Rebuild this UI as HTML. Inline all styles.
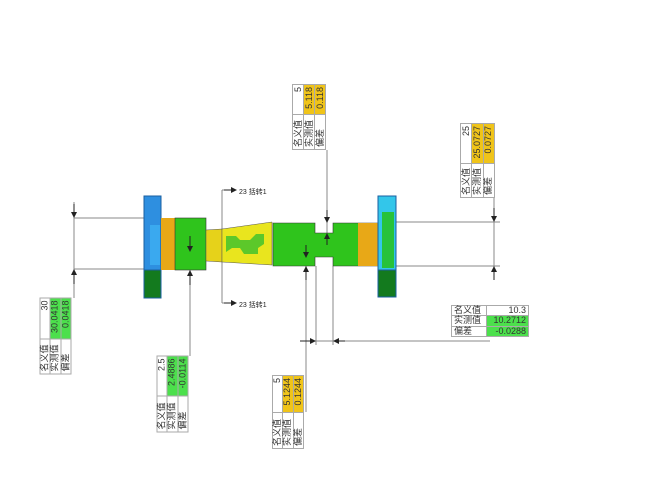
<!DOCTYPE html>
<html><head><meta charset="utf-8"><style>
body{margin:0;width:664px;height:482px;background:#fff;position:relative;overflow:hidden;font-family:"Liberation Sans","Noto Sans CJK SC",sans-serif}
.t{position:absolute;border-collapse:collapse;font-size:9px;color:#333;background:#fff}
.t td{border:1px solid #aaa;padding:0 2px;height:9px;line-height:9px;white-space:nowrap}
.t td.v{text-align:right}
.g{background:#4ce04c}.y{background:#f0c419}
.r{transform:rotate(-90deg);transform-origin:center center}
</style></head><body>
<svg width="664" height="482" style="position:absolute;left:0;top:0" xmlns="http://www.w3.org/2000/svg">
<defs><marker id="a" markerWidth="6" markerHeight="6" refX="5" refY="3" orient="auto"><path d="M0,0L6,3L0,6z" fill="#222"/></marker></defs>
<g fill="none" stroke="#888" stroke-width="1">
<line x1="74" y1="218" x2="145" y2="218"/><line x1="74" y1="269" x2="145" y2="269"/>
<line x1="74" y1="202" x2="74" y2="298"/>
<line x1="395" y1="222" x2="500" y2="222"/><line x1="395" y1="266" x2="500" y2="266"/>
<line x1="494" y1="198" x2="494" y2="280"/>
<line x1="327" y1="150" x2="327" y2="233"/>
<line x1="190" y1="252" x2="190" y2="356"/>
<line x1="306" y1="247" x2="306" y2="412"/>
<line x1="316" y1="266" x2="316" y2="345"/>
<line x1="333" y1="266" x2="333" y2="345"/>
<line x1="300" y1="341" x2="490" y2="341"/>
<line x1="222" y1="190" x2="222" y2="303"/>
<line x1="222" y1="190" x2="235" y2="190"/><line x1="222" y1="303" x2="235" y2="303"/>
</g>
<rect x="144" y="196" width="17" height="74" fill="#2e8fe0" stroke="#1a5fa0"/>
<rect x="150" y="225" width="10" height="40" fill="#3aa9ef"/>
<rect x="144" y="270" width="17" height="28" fill="#137a1e" stroke="#1a5fa0"/>
<rect x="161" y="218" width="14" height="52" fill="#e8a817"/>
<rect x="175" y="218" width="31" height="52" fill="#2fc41c" stroke="#333" stroke-width="0.6"/>
<path d="M206,230L222,229L222,262L206,261Z" fill="#e6d21a" stroke="#555" stroke-width="0.5"/>
<path d="M222,229L272,222L272,265L222,262Z" fill="#e9e51e" stroke="#555" stroke-width="0.5"/>
<path d="M226,236h10l4,4h10l6,-6h8v10l-6,4v6h-14l-4,-6h-8l-6,4z" fill="#5cc82a"/>
<path d="M273,223H315V233H333V223H378V266H333V257H315V266H273Z" fill="#2fc41c" stroke="#333" stroke-width="0.6"/>
<rect x="358" y="223" width="20" height="43" fill="#e8a817"/>
<rect x="378" y="196" width="18" height="74" fill="#33c6ea" stroke="#1a5fa0"/>
<rect x="382" y="212" width="12" height="56" fill="#27c23a"/>
<rect x="378" y="270" width="18" height="27" fill="#137a1e" stroke="#1a5fa0"/>
<g stroke="#222" stroke-width="1" fill="none">
<line x1="74" y1="204" x2="74" y2="217" marker-end="url(#a)"/>
<line x1="74" y1="284" x2="74" y2="270" marker-end="url(#a)"/>
<line x1="494" y1="208" x2="494" y2="221" marker-end="url(#a)"/>
<line x1="494" y1="280" x2="494" y2="267" marker-end="url(#a)"/>
<line x1="327" y1="210" x2="327" y2="222" marker-end="url(#a)"/>
<line x1="327" y1="245" x2="327" y2="234" marker-end="url(#a)"/>
<line x1="190" y1="236" x2="190" y2="251" marker-end="url(#a)"/>
<line x1="190" y1="285" x2="190" y2="271" marker-end="url(#a)"/>
<line x1="306" y1="245" x2="306" y2="257" marker-end="url(#a)"/>
<line x1="306" y1="280" x2="306" y2="267" marker-end="url(#a)"/>
<line x1="300" y1="341" x2="315" y2="341" marker-end="url(#a)"/>
<line x1="345" y1="341" x2="334" y2="341" marker-end="url(#a)"/>
<line x1="224" y1="190" x2="236" y2="190" marker-end="url(#a)"/>
<line x1="224" y1="303" x2="236" y2="303" marker-end="url(#a)"/>
</g>
<text x="239" y="194" font-size="7" fill="#222" font-family="Liberation Sans,Noto Sans CJK SC,sans-serif">23 括转1</text>
<text x="239" y="307" font-size="7" fill="#222" font-family="Liberation Sans,Noto Sans CJK SC,sans-serif">23 括转1</text>
</svg>

<table class="t r" style="left:17px;top:320px;width:77px;height:32px"><tr><td>名义值</td><td class="v">30</td></tr><tr><td>实测值</td><td class="v g">30.0418</td></tr><tr><td>偏差</td><td class="v g">0.0418</td></tr></table>
<table class="t r" style="left:134px;top:378px;width:77px;height:32px"><tr><td>名义值</td><td class="v">2.5</td></tr><tr><td>实测值</td><td class="v g">2.4886</td></tr><tr><td>偏差</td><td class="v g">-0.0114</td></tr></table>
<table class="t r" style="left:276px;top:100px;width:66px;height:34px"><tr><td>名义值</td><td class="v">5</td></tr><tr><td>实测值</td><td class="v y">5.118</td></tr><tr><td>偏差</td><td class="v y">0.118</td></tr></table>
<table class="t r" style="left:440px;top:143px;width:75px;height:35px"><tr><td>名义值</td><td class="v">25</td></tr><tr><td>实测值</td><td class="v y">25.0727</td></tr><tr><td>偏差</td><td class="v y">0.0727</td></tr></table>
<table class="t r" style="left:251px;top:396px;width:74px;height:32px"><tr><td>名义值</td><td class="v">5</td></tr><tr><td>实测值</td><td class="v y">5.1244</td></tr><tr><td>偏差</td><td class="v y">0.1244</td></tr></table>
<table class="t" style="left:451px;top:305px;width:78px;height:32px"><tr><td>名义值</td><td class="v">10.3</td></tr><tr><td>实测值</td><td class="v g">10.2712</td></tr><tr><td>偏差</td><td class="v g">-0.0288</td></tr></table>
</body></html>
